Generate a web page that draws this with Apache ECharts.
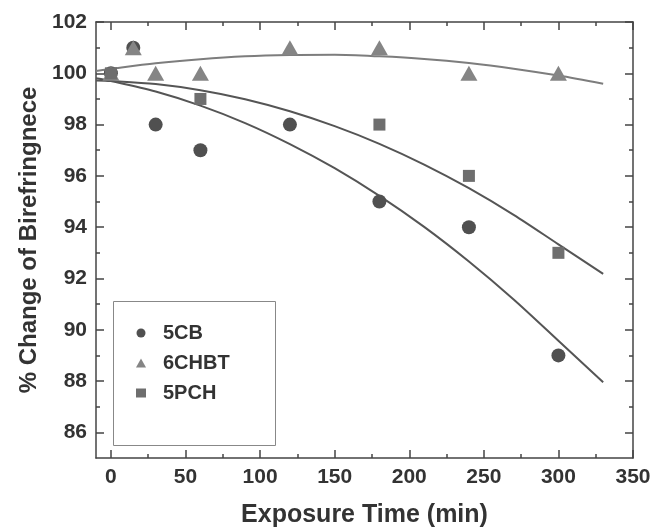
<!DOCTYPE html>
<html>
<head>
<meta charset="utf-8">
<script src="https://cdn.jsdelivr.net/npm/echarts@6/dist/echarts.min.js"></script>
<style>
html,body{margin:0;padding:0;background:#fff;}
#chart{width:651px;height:530px;}
</style>
</head>
<body>
<div id="chart"></div>
<script>
// ---- data ----
const seriesNames = ['5CB', '6CHBT', '5PCH'];
const time5CB = [0, 15, 30, 60, 120, 180, 240, 300];
const val5CB = [100, 101, 98, 97, 98, 95, 94, 89];
const time6CHBT = [0, 15, 30, 60, 120, 180, 240, 300];
const val6CHBT = [100, 101, 100, 100, 101, 101, 100, 100];
const time5PCH = [0, 60, 180, 240, 300];
const val5PCH = [100, 99, 98, 96, 93];

// fitted curves
const fitTime = [-10, 0, 30, 60, 90, 120, 150, 180, 210, 240, 270, 300, 330];
const fit5CB = [99.81, 99.70, 99.29, 98.74, 98.06, 97.24, 96.30, 95.22, 94.01, 92.66, 91.18, 89.57, 87.95];
const fit6CHBT = [100.09, 100.17, 100.39, 100.55, 100.66, 100.71, 100.72, 100.66, 100.56, 100.40, 100.18, 99.91, 99.59];
const fit5PCH = [99.72, 99.70, 99.58, 99.34, 98.99, 98.52, 97.94, 97.25, 96.44, 95.52, 94.48, 93.33, 92.18];

// tick labels
const xMajorTicks = [0, 50, 100, 150, 200, 250, 300, 350];
const xMinorTicks = [25, 75, 125, 175, 225, 275, 325];
const yMajorTicks = [86, 88, 90, 92, 94, 96, 98, 100, 102];
const yMinorTicks = [87, 89, 91, 93, 95, 97, 99, 101];

const xTitle = 'Exposure Time (min)';
const yTitle = '% Change of Birefringnece';

// ---- chart ----
const FONT = '"Liberation Sans", Arial, sans-serif';
const TXT = '#333';
const AX = '#444';
const zip = (a, b) => a.map((v, i) => [v, b[i]]);

function xAx(pos, ticks, len, showLine, showLabel, name) {
  return {
    type: 'value', position: pos, min: -10, max: 350,
    name: name || '', nameLocation: 'middle', nameGap: 45,
    nameTextStyle: {fontFamily: FONT, fontWeight: 'bold', fontSize: 25, color: TXT},
    axisLine: {show: showLine, onZero: false, lineStyle: {color: AX, width: 1.5}},
    axisTick: {show: true, inside: true, length: len, customValues: ticks, lineStyle: {color: AX, width: 1.5}},
    axisLabel: {show: showLabel, customValues: ticks, margin: 9, fontFamily: FONT, fontWeight: 'bold', fontSize: 21, color: TXT},
    splitLine: {show: false}
  };
}
function yAx(pos, ticks, len, showLine, showLabel, name) {
  return {
    type: 'value', position: pos, min: 85, max: 102,
    name: name || '', nameLocation: 'middle', nameGap: 55,
    nameTextStyle: {fontFamily: FONT, fontWeight: 'bold', fontSize: 24, color: TXT},
    axisLine: {show: showLine, onZero: false, lineStyle: {color: AX, width: 1.5}},
    axisTick: {show: true, inside: true, length: len, customValues: ticks, lineStyle: {color: AX, width: 1.5}},
    axisLabel: {show: showLabel, customValues: ticks, margin: 9, fontFamily: FONT, fontWeight: 'bold', fontSize: 21, color: TXT},
    splitLine: {show: false}
  };
}

const chart = echarts.init(document.getElementById('chart'), null, {renderer: 'canvas'});
const darkLine = {color: '#555', width: 2};
const lightLine = {color: '#7d7d7d', width: 2};
chart.setOption({
  animation: false,
  backgroundColor: '#fff',
  grid: {left: 96, right: 18, top: 22, bottom: 72, containLabel: false, outerBoundsMode: 'none'},
  xAxis: [
    xAx('bottom', xMajorTicks, 8, true, true, xTitle),
    xAx('bottom', xMinorTicks, 4, false, false),
    xAx('top', xMajorTicks, 8, true, false),
    xAx('top', xMinorTicks, 4, false, false)
  ],
  yAxis: [
    yAx('left', yMajorTicks, 8, true, true, yTitle),
    yAx('left', yMinorTicks, 4, false, false),
    yAx('right', yMajorTicks, 8, true, false),
    yAx('right', yMinorTicks, 4, false, false)
  ],
  graphic: [{
    type: 'rect', left: 111, top: 299, z: 0,
    shape: {width: 162, height: 144},
    style: {fill: 'none', stroke: '#888', lineWidth: 1}
  }],
  legend: {
    orient: 'vertical', left: 136, top: 322, padding: 0,
    itemWidth: 10, itemHeight: 9, itemGap: 8,
    textStyle: {fontFamily: FONT, fontWeight: 'bold', fontSize: 20, color: TXT, lineHeight: 22, padding: [0, 0, 0, 12]},
    data: [
      {name: seriesNames[0], icon: 'circle'},
      {name: seriesNames[1], icon: 'triangle'},
      {name: seriesNames[2], icon: 'rect'}
    ]
  },
  series: [
    {name: 'fit ' + seriesNames[0], type: 'line', data: zip(fitTime, fit5CB), smooth: 0.3, showSymbol: false, lineStyle: darkLine, itemStyle: {color: '#555'}, z: 1},
    {name: 'fit ' + seriesNames[1], type: 'line', data: zip(fitTime, fit6CHBT), smooth: 0.3, showSymbol: false, lineStyle: lightLine, itemStyle: {color: '#7d7d7d'}, z: 1},
    {name: 'fit ' + seriesNames[2], type: 'line', data: zip(fitTime, fit5PCH), smooth: 0.3, showSymbol: false, lineStyle: darkLine, itemStyle: {color: '#555'}, z: 1},
    {name: seriesNames[0], type: 'scatter', data: zip(time5CB, val5CB), symbol: 'circle', symbolSize: 14, itemStyle: {color: '#505050', opacity: 1}, z: 3},
    {name: seriesNames[1], type: 'scatter', data: zip(time6CHBT, val6CHBT), symbol: 'triangle', symbolSize: [17, 15], itemStyle: {color: '#858585', opacity: 1}, z: 3},
    {name: seriesNames[2], type: 'scatter', data: zip(time5PCH, val5PCH), symbol: 'rect', symbolSize: 12, itemStyle: {color: '#6e6e6e', opacity: 1}, z: 3}
  ]
});
</script>
</body>
</html>
